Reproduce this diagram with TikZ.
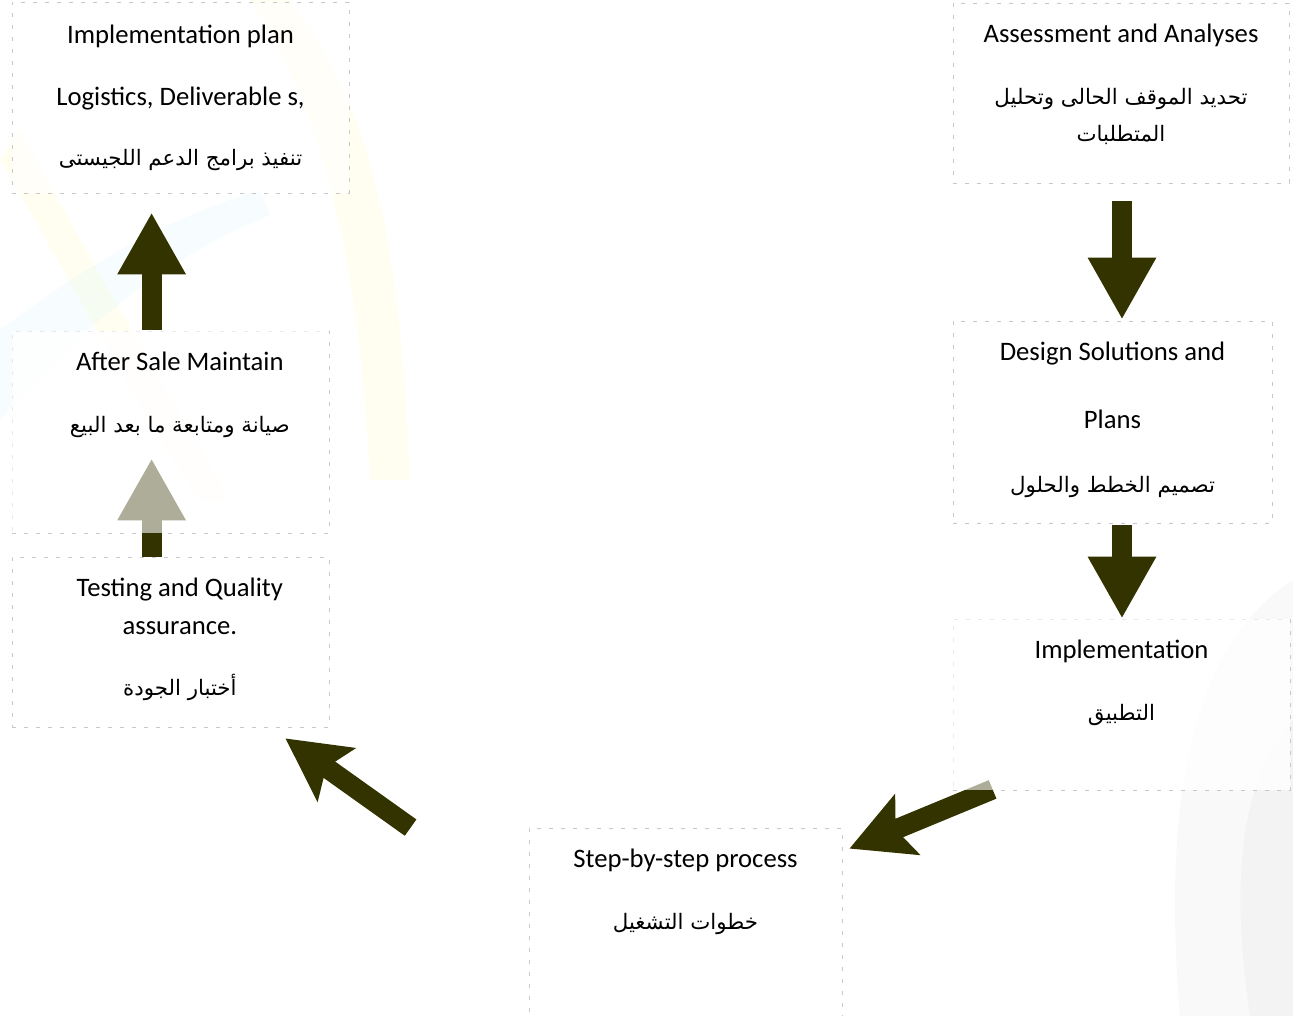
\documentclass[tikz,border=0pt]{standalone}
\usepackage{fontspec}
\setmainfont{Carlito}
\newfontfamily\arabicfont[Script=Arabic,Scale=0.8]{DejaVu Sans}
\TeXXeTstate=1
\usetikzlibrary{arrows.meta,positioning,calc}

\definecolor{arrowdark}{RGB}{51,51,0}
\definecolor{boxgray}{RGB}{200,200,200}
\newcommand{\ar}[1]{{\arabicfont\beginR #1\endR}}

\begin{document}
\begin{tikzpicture}[
		x=0.75pt, y=-0.75pt,
		box/.style={draw=boxgray, dash pattern=on 3pt off 6pt, line width=0.6pt, fill=white, fill opacity=0.6},
		txt/.style={align=center, inner sep=0pt, anchor=north, font=\fontsize{20}{28}\selectfont},
		flow/.style={draw=arrowdark, line width=15pt, -{Triangle[length=46.5pt, width=48pt]}},
		bent/.style={flow, -{Stealth[length=46.5pt, width=48pt, inset=9pt]}},
	]
		\useasboundingbox (0,0) rectangle (1293,1016);
		
		% faint backdrop
		\fill[yellow!70!white, opacity=0.08] (290,0) .. controls (380,120) and (400,260) .. (410,480) -- (370,480) .. controls (360,280) and (330,120) .. (250,0) -- cycle;
		\fill[yellow!70!white, opacity=0.08] (20,130) .. controls (90,260) and (160,380) .. (230,500) -- (200,500) .. controls (120,380) and (60,260) .. (0,160) -- cycle;
		\fill[cyan!40!white, opacity=0.08] (0,330) .. controls (80,270) and (160,220) .. (260,190) -- (270,215) .. controls (160,260) and (80,330) .. (0,420) -- cycle;
		\fill[gray, opacity=0.05] (1293,580) .. controls (1200,640) and (1160,780) .. (1180,1016) -- (1293,1016) -- cycle;
		\fill[gray, opacity=0.05] (1293,720) .. controls (1240,780) and (1230,880) .. (1250,1016) -- (1293,1016) -- cycle;
		
		\node (plan) [box, minimum width=252.75pt, minimum height=143.25pt] at (180.5,97.5) {};
		\node (assess) [box, minimum width=252pt, minimum height=135pt] at (1121,93) {};
		\node (design) [box, minimum width=239.25pt, minimum height=151.5pt] at (1112.5,422) {};
		\node (impl) [box, minimum width=252.75pt, minimum height=128.25pt] at (1121.5,704.5) {};
		\node (step) [box, minimum width=234.75pt, minimum height=151.5pt] at (685.5,929) {};
		\node (test) [box, minimum width=237.75pt, minimum height=127.5pt] at (170.5,642) {};
		\node (after) [box, minimum width=237.75pt, minimum height=151.5pt] at (170.5,432) {};
		
		\draw[flow] ($(assess.south)+(1,18)$) -- ($(design.north)+(9.5,-1)$);
		\draw[flow] ($(design.south)+(9.5,2)$) -- ($(impl.north)+(0.5,0)$);
		\draw[bent] ($(impl.south west)+(40,-1)$) -- ($(step.north east)+(7,21)$);
		\draw[bent] ($(step.north west)+(-118,0)$) -- ($(test.south east)+(-44,11)$);
		\draw[flow] ($(test.north west)+(140,0)$) -- ($(after.south west)+(140,-75)$);
		\draw[flow] ($(after.north west)+(140,-1)$) -- ($(plan.south west)+(140,19)$);
		
		% veil over the arrow parts inside the boxes
		\fill[white, opacity=0.6] (after.south west) rectangle (after.north east);
		\fill[white, opacity=0.6] (impl.south west) rectangle (impl.north east);
		
		\node[txt, below=17pt of plan.north] {Implementation plan\\[19pt] Logistics, Deliverable s,\\[17pt] \ar{تنفيذ برامج الدعم اللجيستى}};
		\node[txt, below=16pt of assess.north] {Assessment and Analyses\\[18pt] \ar{تحديد الموقف الحالى وتحليل}\\ \ar{المتطلبات}};
		\node[txt, below=16pt of design.north] {Design Solutions and\\[23pt] Plans\\[20pt] \ar{تصميم الخطط والحلول}};
		\node[txt, below=16pt of impl.north] {Implementation\\[18pt] \ar{التطبيق}};
		\node[txt, below=16pt of step.north] {Step-by-step process\\[18pt] \ar{خطوات التشغيل}};
		\node[txt, below=16pt of test.north, xshift=7pt] {Testing and Quality\\ assurance.\\[18pt] \ar{أختبار الجودة}};
		\node[txt, below=16pt of after.north, xshift=7pt] {After Sale Maintain\\[18pt] \ar{صيانة ومتابعة ما بعد البيع}};
	\end{tikzpicture}
\end{document}
